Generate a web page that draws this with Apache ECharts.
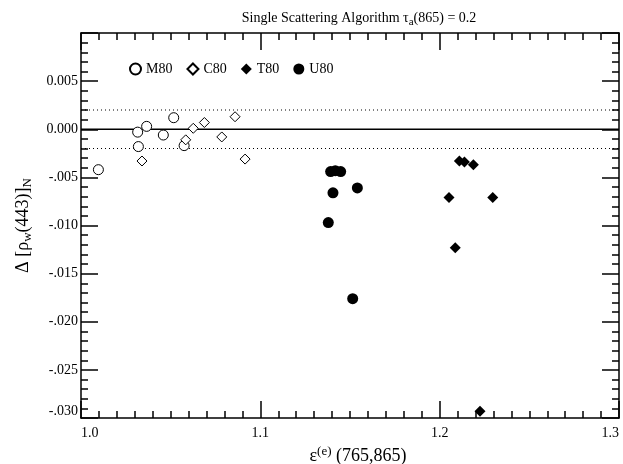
<!DOCTYPE html>
<html>
<head>
<meta charset="utf-8">
<script src="https://cdn.jsdelivr.net/npm/echarts@6/dist/echarts.min.js"></script>
<style>html,body{margin:0;padding:0;background:#fff;}#c{width:623px;height:464px;}</style>
</head>
<body>
<div id="c"></div>
<script>
const seriesNames = ['M80', 'C80', 'T80', 'U80'];
const m80X = [1.0097, 1.0316, 1.0366, 1.0320, 1.0459, 1.0517, 1.0575];
const m80Y = [-0.0042, -0.0003, 0.0003, -0.0018, -0.0006, 0.0012, -0.0017];
const c80X = [1.0340, 1.0584, 1.0626, 1.0688, 1.0785, 1.0859, 1.0915];
const c80Y = [-0.0033, -0.0011, 0.0001, 0.0007, -0.0008, 0.0013, -0.0031];
const t80X = [1.2110, 1.2138, 1.2188, 1.2052, 1.2296, 1.2087, 1.2225];
const t80Y = [-0.0033, -0.0034, -0.0037, -0.0071, -0.0071, -0.0123, -0.0293];
const u80X = [1.1392, 1.1418, 1.1448, 1.1541, 1.1405, 1.1379, 1.1515];
const u80Y = [-0.0044, -0.0043, -0.0044, -0.0061, -0.0066, -0.0097, -0.0176];
const zeroLine = 0;
const refLines = [0.002, -0.002];
const xMin = 1.0, xMax = 1.3, xStep = 0.1;
const yMin = -0.030, yMax = 0.010, yStep = 0.005;

const pair = (xs, ys) => xs.map((x, i) => [x, ys[i]]);
const FONT = 'Liberation Serif';
const sub = { fontSize: 11, lineHeight: 10, verticalAlign: 'bottom', fontFamily: FONT, color: '#000' };
const subBig = { fontSize: 13, lineHeight: 11, verticalAlign: 'bottom', fontFamily: FONT, color: '#000' };
const supBig = { fontSize: 13, lineHeight: 11, verticalAlign: 'top', fontFamily: FONT, color: '#000' };

const yFmt = v => {
  const r = Math.round(v * 1000) / 1000;
  if (Math.abs(r) < 1e-9) return '0.000';
  return r < 0 ? '-' + Math.abs(r).toFixed(3).slice(1) : r.toFixed(3);
};

const axisCommon = {
  type: 'value',
  splitLine: { show: false },
  axisLine: { show: true, onZero: false, lineStyle: { color: '#000', width: 1.5 } },
  axisTick: { show: true, inside: true, length: 17, lineStyle: { color: '#000', width: 1.5 } },
  minorTick: { show: true, length: 7, lineStyle: { color: '#000', width: 1.5 } },
};

const hLine = (v, style) => ({
  type: 'line', silent: true, symbol: 'none', z: 2,
  data: [[xMin, v], [xMax, v]],
  lineStyle: style
});

const chart = echarts.init(document.getElementById('c'), null, { renderer: 'canvas' });
chart.setOption({
  animation: false,
  backgroundColor: '#fff',
  title: {
    text: 'Single Scattering Algorithm τ{sub|a}(865) = 0.2',
    left: 354, top: 4, textAlign: 'center',
    textStyle: { fontFamily: FONT, fontSize: 14, fontWeight: 'normal', color: '#000', lineHeight: 19, rich: { sub: sub } }
  },
  legend: {
    data: seriesNames,
    left: 124, top: 57,
    itemWidth: 11, itemHeight: 11, itemGap: 14,
    textStyle: { fontFamily: FONT, fontSize: 14, color: '#000', padding: [0, 0, 0, 0] }
  },
  grid: { left: 81, right: 4, top: 33, height: 385, containLabel: false, outerBoundsMode: 'none' },
  xAxis: [
    Object.assign({}, axisCommon, {
      min: xMin, max: xMax, interval: xStep, position: 'bottom',
      minorTick: Object.assign({}, axisCommon.minorTick, { splitNumber: 10 }),
      axisLabel: { show: true, margin: 8, fontFamily: FONT, fontSize: 14, color: '#000', formatter: v => v.toFixed(1), alignMinLabel: 'left', alignMaxLabel: 'right' },
      name: 'ε{sup|(e)} (765,865)', nameLocation: 'middle', nameGap: 19,
      nameTextStyle: { fontFamily: FONT, fontSize: 18, color: '#000', lineHeight: 22, padding: [0, 0, 0, 16], rich: { sup: supBig } }
    }),
    Object.assign({}, axisCommon, {
      min: xMin, max: xMax, interval: xStep, position: 'top',
      minorTick: Object.assign({}, axisCommon.minorTick, { splitNumber: 10 }),
      axisLabel: { show: false }
    })
  ],
  yAxis: [
    Object.assign({}, axisCommon, {
      min: yMin, max: yMax, interval: yStep, position: 'left',
      minorTick: Object.assign({}, axisCommon.minorTick, { splitNumber: 5 }),
      axisLabel: { show: true, margin: 3, fontFamily: FONT, fontSize: 14, color: '#000', formatter: yFmt, showMaxLabel: false, verticalAlignMinLabel: 'bottom' },
      name: 'Δ [ρ{sub|w}(443)]{sub|N}', nameLocation: 'middle', nameGap: 47, nameRotate: 90,
      nameTextStyle: { fontFamily: FONT, fontSize: 18, color: '#000', lineHeight: 22, rich: { sub: subBig } }
    }),
    Object.assign({}, axisCommon, {
      min: yMin, max: yMax, interval: yStep, position: 'right',
      minorTick: Object.assign({}, axisCommon.minorTick, { splitNumber: 5 }),
      axisLabel: { show: false }
    })
  ],
  series: [
    hLine(zeroLine, { type: 'solid', color: '#000', width: 1.5 }),
    hLine(refLines[0], { type: [1, 3], color: '#000', width: 1 }),
    hLine(refLines[1], { type: [1, 3], color: '#000', width: 1 }),
    {
      name: 'M80', type: 'scatter', symbol: 'circle', symbolSize: 10,
      data: pair(m80X, m80Y),
      itemStyle: { color: '#fff', borderColor: '#000', borderWidth: 1, opacity: 1 }, z: 3
    },
    {
      name: 'C80', type: 'scatter', symbol: 'diamond', symbolSize: 10,
      data: pair(c80X, c80Y),
      itemStyle: { color: '#fff', borderColor: '#000', borderWidth: 1, opacity: 1 }, z: 3
    },
    {
      name: 'T80', type: 'scatter', symbol: 'diamond', symbolSize: 11,
      data: pair(t80X, t80Y),
      itemStyle: { color: '#000', opacity: 1 }, z: 3
    },
    {
      name: 'U80', type: 'scatter', symbol: 'circle', symbolSize: 11,
      data: pair(u80X, u80Y),
      itemStyle: { color: '#000', opacity: 1 }, z: 3
    }
  ]
});
</script>
</body>
</html>
